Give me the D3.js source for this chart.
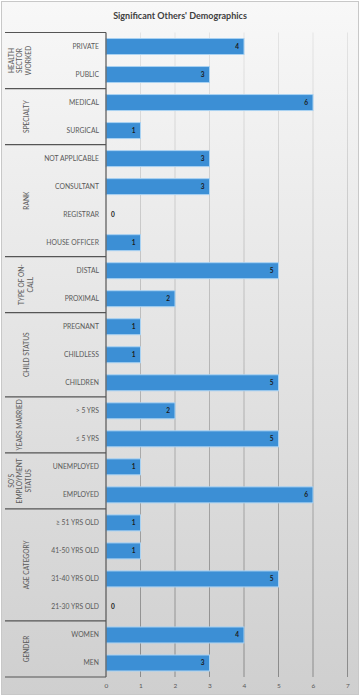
<!DOCTYPE html>
<html>
<head>
<meta charset="utf-8">
<script src="https://cdn.jsdelivr.net/npm/d3@7"></script>
<style>
  html, body { margin: 0; padding: 0; background: #fff; }
  svg { display: block; font-family: Lato, "Open Sans", sans-serif; }
</style>
</head>
<body>
<svg id="chart" width="361" height="698"></svg>
<script>
const title = "Significant Others' Demographics";

const categories = [
    "PRIVATE", "PUBLIC",
    "MEDICAL", "SURGICAL",
    "NOT APPLICABLE", "CONSULTANT", "REGISTRAR", "HOUSE OFFICER",
    "DISTAL", "PROXIMAL",
    "PREGNANT", "CHILDLESS", "CHILDREN",
    "> 5 YRS", "≤ 5 YRS",
    "UNEMPLOYED", "EMPLOYED",
    "≥ 51 YRS OLD", "41-50 YRS OLD", "31-40 YRS OLD", "21-30 YRS OLD",
    "WOMEN", "MEN"
];
const values = [4, 3, 6, 1, 3, 3, 0, 1, 5, 2, 1, 1, 5, 2, 5, 1, 6, 1, 1, 5, 0, 4, 3];

const groupLabels = [
    ["HEALTH", "SECTOR", "WORKED"],
    ["SPECIALTY"],
    ["RANK"],
    ["TYPE OF ON-", "CALL"],
    ["CHILD STATUS"],
    ["YEARS MARRIED"],
    ["SO'S", "EMPLOYMENT", "STATUS"],
    ["AGE CATEGORY"],
    ["GENDER"]
];
const groupSizes = [2, 2, 4, 2, 3, 2, 2, 4, 2];

const xTicks = [0, 1, 2, 3, 4, 5, 6, 7];

// layout
const plot = { left: 106, right: 347.5, top: 32.5, bottom: 677 };
const groupLeft = 5;

const svg = d3.select("#chart");
const defs = svg.append("defs");

const bg = defs.append("linearGradient").attr("id", "bg")
    .attr("x1", 0).attr("y1", 0).attr("x2", 0).attr("y2", 1);
bg.append("stop").attr("offset", "0%").attr("stop-color", "#f8f8f8");
bg.append("stop").attr("offset", "100%").attr("stop-color", "#cfcfcf");

const gridGrad = defs.append("linearGradient").attr("id", "gridGrad")
    .attr("gradientUnits", "userSpaceOnUse")
    .attr("x1", 0).attr("y1", plot.top).attr("x2", 0).attr("y2", plot.bottom);
gridGrad.append("stop").attr("offset", "0%").attr("stop-color", "#e4e4e4");
gridGrad.append("stop").attr("offset", "100%").attr("stop-color", "#8a8a8a");

svg.append("rect")
    .attr("x", 1.5).attr("y", 1.5)
    .attr("width", 357).attr("height", 693)
    .attr("fill", "url(#bg)")
    .attr("stroke", "#c8c8c8");

svg.append("text")
    .attr("x", 180).attr("y", 19)
    .attr("text-anchor", "middle")
    .attr("font-size", 9)
    .attr("font-weight", "bold")
    .attr("fill", "#404040")
    .text(title);

const x = d3.scaleLinear().domain([0, 7]).range([plot.left, plot.right]);
const y = d3.scaleBand().domain(categories)
    .range([plot.top, plot.bottom])
    .paddingInner(0.43).paddingOuter(0.215);

// gridlines
svg.append("g").selectAll("line")
    .data(xTicks.slice(1))
    .join("line")
    .attr("x1", d => x(d)).attr("x2", d => x(d))
    .attr("y1", plot.top).attr("y2", plot.bottom)
    .attr("stroke", "url(#gridGrad)")
    .attr("stroke-width", 1);

// bottom axis tick labels
const xAxis = d3.axisBottom(x).tickValues(xTicks).tickFormat(d3.format("d"))
    .tickSize(0).tickPadding(6);
const ax = svg.append("g")
    .attr("transform", `translate(0,${plot.bottom})`)
    .call(xAxis);
ax.select(".domain").remove();
ax.selectAll("text")
    .attr("font-family", "Lato, sans-serif")
    .attr("font-size", 6.5)
    .attr("fill", "#595959");

// bars
const rows = categories.map((c, i) => ({ cat: c, val: values[i] }));
svg.append("g").selectAll("rect")
    .data(rows.filter(d => d.val > 0))
    .join("rect")
    .attr("x", x(0))
    .attr("y", d => y(d.cat))
    .attr("width", d => x(d.val) - x(0))
    .attr("height", y.bandwidth())
    .attr("fill", "#3c8fd5")
    .attr("stroke", "#a9d2f2")
    .attr("stroke-width", 1);

// value labels
svg.append("g").selectAll("text")
    .data(rows)
    .join("text")
    .attr("x", d => d.val > 0 ? x(d.val) - 5 : x(0) + 5)
    .attr("y", d => y(d.cat) + y.bandwidth() / 2)
    .attr("dy", "0.35em")
    .attr("text-anchor", d => d.val > 0 ? "end" : "start")
    .attr("font-size", 6.5)
    .attr("font-weight", "bold")
    .attr("fill", "#1a1a1a")
    .text(d => d.val);

// category labels
const yAxis = d3.axisLeft(y).tickSize(0).tickPadding(7);
const ay = svg.append("g")
    .attr("transform", `translate(${plot.left},0)`)
    .call(yAxis);
ay.select(".domain").remove();
ay.selectAll("text")
    .attr("font-family", "Lato, sans-serif")
    .attr("font-size", 6.8)
    .attr("fill", "#595959");

// group boxes
const lineColor = "#555";
const half = (y.step() - y.bandwidth()) / 2;
let start = 0;
const groups = groupSizes.map((n, i) => {
    const g = {
        lines: groupLabels[i],
        y0: i === 0 ? plot.top : y(categories[start]) - half,
        y1: y(categories[start + n - 1]) + y.bandwidth() + half
    };
    start += n;
    return g;
});

const boxes = svg.append("g");
boxes.append("line")
    .attr("x1", plot.left).attr("x2", plot.left)
    .attr("y1", plot.top).attr("y2", plot.bottom)
    .attr("stroke", lineColor).attr("stroke-width", 1.2);

const bounds = [groups[0].y0].concat(groups.map(g => g.y1));
boxes.selectAll("line.sep")
    .data(bounds)
    .join("line")
    .attr("class", "sep")
    .attr("x1", groupLeft).attr("x2", plot.left)
    .attr("y1", d => d).attr("y2", d => d)
    .attr("stroke", lineColor).attr("stroke-width", 1.2);

const lineGap = 8.8;
groups.forEach(g => {
    const cy = (g.y0 + g.y1) / 2;
    const n = g.lines.length;
    const tall = n === 1 && g.lines[0].length > 12;
    const cx = n === 1 ? (tall ? 19.5 : 27) : 20 + (n === 2 ? 6 : 0);
    const t = boxes.append("text")
        .attr("transform", `translate(${cx},${cy}) rotate(-90)`)
        .attr("text-anchor", "middle")
        .attr("font-size", 6.6)
        .attr("fill", "#595959");
    g.lines.forEach((l, k) => {
        t.append("tspan")
            .attr("x", 0)
            .attr("y", (k - (n - 1) / 2) * lineGap)
            .attr("dy", "0.35em")
            .text(l);
    });
});
</script>
</body>
</html>
